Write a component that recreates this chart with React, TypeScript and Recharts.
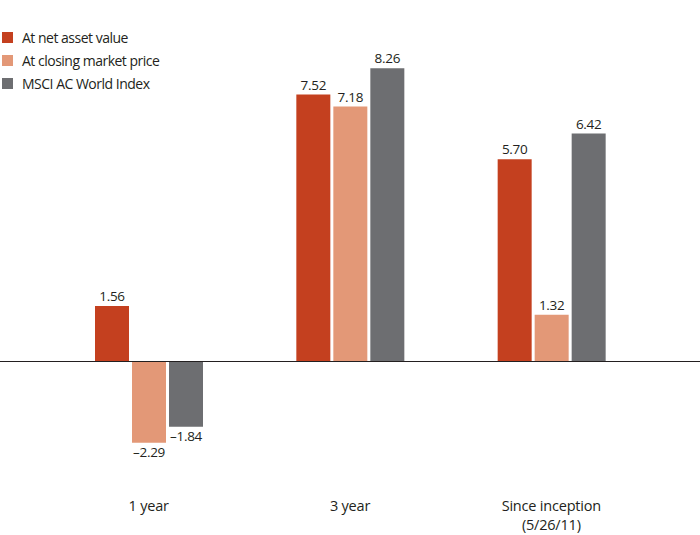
import React from "react";
import { BarChart, Bar, XAxis, YAxis, ReferenceLine, LabelList } from "recharts";

const categories = ["1 year", "3 year", "Since inception|(5/26/11)"];
const navValues = [1.56, 7.52, 5.7];
const marketValues = [-2.29, 7.18, 1.32];
const msciValues = [-1.84, 8.26, 6.42];

const seriesNames = ["At net asset value", "At closing market price", "MSCI AC World Index"];
const colors = ["#C4401F", "#E39877", "#6D6E71"];

const data = categories.map((c, i) => ({
  name: c,
  nav: navValues[i],
  market: marketValues[i],
  msci: msciValues[i],
}));

const FONT = "'Open Sans', sans-serif";

const fmt = (v: number) => v.toFixed(2).replace("-", "\u2013");

const ValueLabel = (props: any) => {
  const { x, y, width, height, value } = props;
  const top = Math.min(y, y + height);
  const bottom = Math.max(y, y + height);
  const neg = value < 0;
  return (
    <text
      x={x + width / 2}
      y={neg ? bottom + 14 : top - 5}
      textAnchor="middle"
      fontSize={13.5}
      letterSpacing={-0.3}
      fontFamily={FONT}
      fill="#231F20"
    >
      {fmt(value)}
    </text>
  );
};

const CategoryTick = (props: any) => {
  const { x, y, payload } = props;
  const lines = String(payload.value).split("|");
  return (
    <text x={x} y={y} textAnchor="middle" fontSize={14.5} letterSpacing={-0.2} fontFamily={FONT} fill="#231F20">
      {lines.map((l, i) => (
        <tspan key={i} x={x} dy={i === 0 ? 35 : 19}>
          {l}
        </tspan>
      ))}
    </text>
  );
};

const LegendBox = () => (
  <div
    style={{
      position: "absolute",
      left: 2,
      top: 26,
      fontFamily: FONT,
      fontSize: 14,
      letterSpacing: -0.5,
      color: "#231F20",
    }}
  >
    {seriesNames.map((n, i) => (
      <div key={n} style={{ display: "flex", alignItems: "center", height: 23 }}>
        <span style={{ width: 11, height: 11, background: colors[i], marginRight: 9 }} />
        <span>{n}</span>
      </div>
    ))}
  </div>
);

export default function App() {
  return (
    <div style={{ position: "relative", width: 700, height: 535, background: "#fff" }}>
      <style>{`body{margin:0}`}</style>
      <BarChart
        width={700}
        height={535}
        data={data}
        margin={{ top: 42, right: 0, bottom: 0, left: 0 }}
        barSize={34}
        barGap={3}
      >
        <XAxis
          dataKey="name"
          axisLine={false}
          tickLine={false}
          padding={{ left: 48, right: 48 }}
          height={67}
          tick={<CategoryTick />}
          interval={0}
        />
        <YAxis hide domain={[-3, 9]} />
        <ReferenceLine y={0} stroke="#231F20" strokeWidth={1} />
        <Bar dataKey="nav" fill={colors[0]} isAnimationActive={false}>
          <LabelList dataKey="nav" content={<ValueLabel />} />
        </Bar>
        <Bar dataKey="market" fill={colors[1]} isAnimationActive={false}>
          <LabelList dataKey="market" content={<ValueLabel />} />
        </Bar>
        <Bar dataKey="msci" fill={colors[2]} isAnimationActive={false}>
          <LabelList dataKey="msci" content={<ValueLabel />} />
        </Bar>
      </BarChart>
      <LegendBox />
    </div>
  );
}
